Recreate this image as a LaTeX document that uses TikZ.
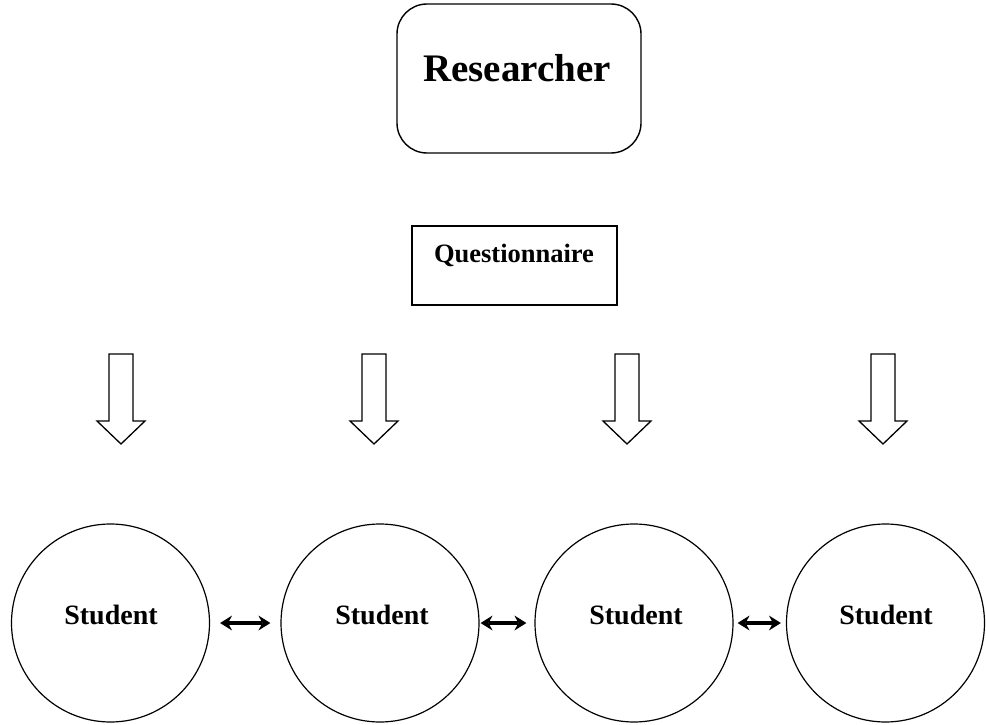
\documentclass[tikz,border=0pt]{standalone}
\usepackage{fontspec}
\setmainfont{Liberation Serif}
\usetikzlibrary{arrows.meta}
\tikzset{
  rbox/.style={draw, line width=1.4pt, rounded corners=30pt, minimum width=244pt, minimum height=149pt, inner sep=0pt},
  qbox/.style={draw, line width=1.4pt, minimum width=205pt, minimum height=79pt, inner sep=0pt},
  lbl/.style={inner sep=0pt, font=\bfseries},
  stud/.style={draw, circle, line width=1.2pt, minimum size=198pt, inner sep=0pt},
  blk/.style={draw, line width=1.3pt, fill=white, line join=miter},
  tipS/.tip={Stealth[length=12pt,width=15pt,inset=4pt,line width=0pt]},
  dbl/.style={draw, line width=3.2pt, tipS-tipS}
}
\begin{document}
\begin{tikzpicture}[x=1pt,y=-1pt]
\useasboundingbox (0,0) rectangle (986,725);

% Researcher
\node[rbox] (res) at (519,78.5) {};
\node[lbl, font=\bfseries\fontsize{39}{41}\selectfont] (restxt) at (517,68) {Researcher};

% Questionnaire
\node[qbox] (q) at (514.5,265.5) {};
\node[lbl, font=\bfseries\fontsize{26.5}{28}\selectfont] (qtxt) at (514,255) {Questionnaire};

% block arrows
\foreach \cx in {121,374,627,883}{
  \draw[blk] (\cx-12,354) -- (\cx+12,354) -- (\cx+12,421) -- (\cx+24,421) -- (\cx,444)
    -- (\cx-24,421) -- (\cx-12,421) -- cycle;
}

% students
\node[stud] (s1) at (110.5,623) {};
\node[stud] (s2) at (380,623) {};
\node[stud] (s3) at (634,623) {};
\node[stud] (s4) at (885.5,623) {};
\node[lbl, font=\bfseries\fontsize{28}{30}\selectfont] (t1) at (111,615) {Student};
\node[lbl, font=\bfseries\fontsize{28}{30}\selectfont] (t2) at (382,615) {Student};
\node[lbl, font=\bfseries\fontsize{28}{30}\selectfont] (t3) at (636,615) {Student};
\node[lbl, font=\bfseries\fontsize{28}{30}\selectfont] (t4) at (886,615) {Student};

% double arrows
\draw[dbl] ([xshift=10pt]s1.east) -- ([xshift=-10pt]s2.west);
\draw[dbl] ([xshift=1pt]s2.east) -- ([xshift=-8pt]s3.west);
\draw[dbl] ([xshift=4pt]s3.east) -- ([xshift=-5pt]s4.west);
\end{tikzpicture}
\end{document}
